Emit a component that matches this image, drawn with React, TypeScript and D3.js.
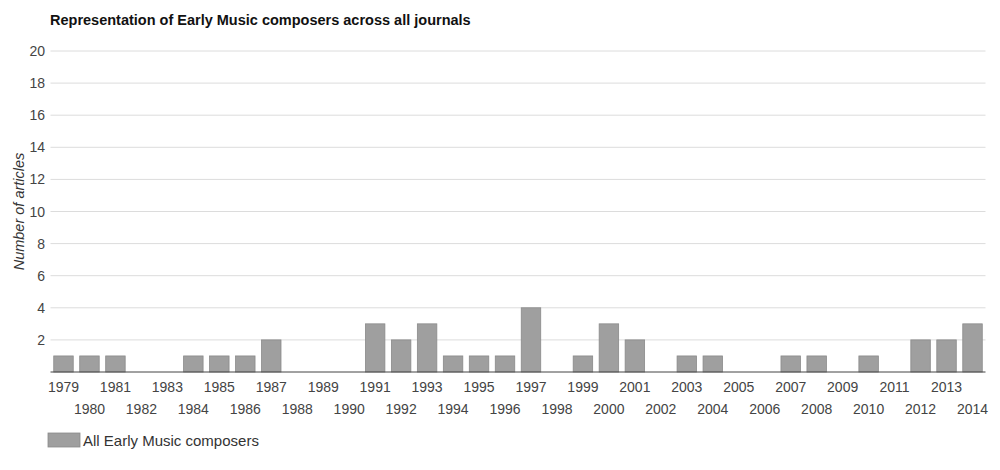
import React from "react";
import * as d3 from "d3";

const years: string[] = [
  "1979","1980","1981","1982","1983","1984","1985","1986","1987","1988","1989","1990",
  "1991","1992","1993","1994","1995","1996","1997","1998","1999","2000","2001","2002",
  "2003","2004","2005","2006","2007","2008","2009","2010","2011","2012","2013","2014",
];
const counts: number[] = [
  1,1,1,0,0,1,1,1,2,0,0,0,
  3,2,3,1,1,1,4,0,1,3,2,0,
  1,1,0,0,1,1,0,1,0,2,2,3,
];
const yTicks: number[] = [0,2,4,6,8,10,12,14,16,18,20];
const title = "Representation of Early Music composers across all journals";
const yTitle = "Number of articles";
const seriesName = "All Early Music composers";

export default function App() {
  const W = 1000, H = 470;
  const left = 50.5, right = 985.5, top = 51, bottom = 372;
  const x = d3.scaleBand<string>().domain(years).range([left, right]).paddingInner(0.25).paddingOuter(0.125);
  const y = d3.scaleLinear().domain([0, 20]).range([bottom, top]);
  const font = "'Liberation Sans', Arial, Helvetica, sans-serif";
  return (
    <svg width={W} height={H} style={{ position: "absolute", left: 0, top: 0, background: "#fff" }} fontFamily={font}>
      <text x={50} y={25} fontSize={14.5} fontWeight="bold" fill="#111">{title}</text>
      {yTicks.map((t) => (
        <g key={t}>
          {t > 0 && <line x1={left} x2={right} y1={y(t)} y2={y(t)} stroke="#dcdcdc" strokeWidth={1} />}
          {t > 0 && (
            <text x={45} y={y(t)} dy="0.36em" textAnchor="end" fontSize={14} fill="#444">{t}</text>
          )}
        </g>
      ))}
      {years.map((yr, i) =>
        counts[i] > 0 ? (
          <rect key={yr} x={x(yr)!} y={y(counts[i])} width={x.bandwidth()} height={bottom - y(counts[i])}
            fill="#9f9f9f" stroke="#8a8a8a" strokeWidth={0.8} />
        ) : null
      )}
      <line x1={left} x2={right} y1={bottom} y2={bottom} stroke="#444" strokeWidth={1} />
      {years.map((yr, i) => (
        <text key={yr} x={x(yr)! + x.bandwidth() / 2} y={i % 2 === 0 ? 392 : 414} textAnchor="middle" fontSize={14} fill="#444">{yr}</text>
      ))}
      <text transform={`translate(24,${(top + bottom) / 2}) rotate(-90)`} textAnchor="middle" fontSize={14.5} fontStyle="italic" fill="#333">{yTitle}</text>
      <rect x={48} y={433} width={32} height={14} fill="#9f9f9f" stroke="#8a8a8a" strokeWidth={0.8} />
      <text x={83} y={446} fontSize={15} fill="#333">{seriesName}</text>
    </svg>
  );
}
